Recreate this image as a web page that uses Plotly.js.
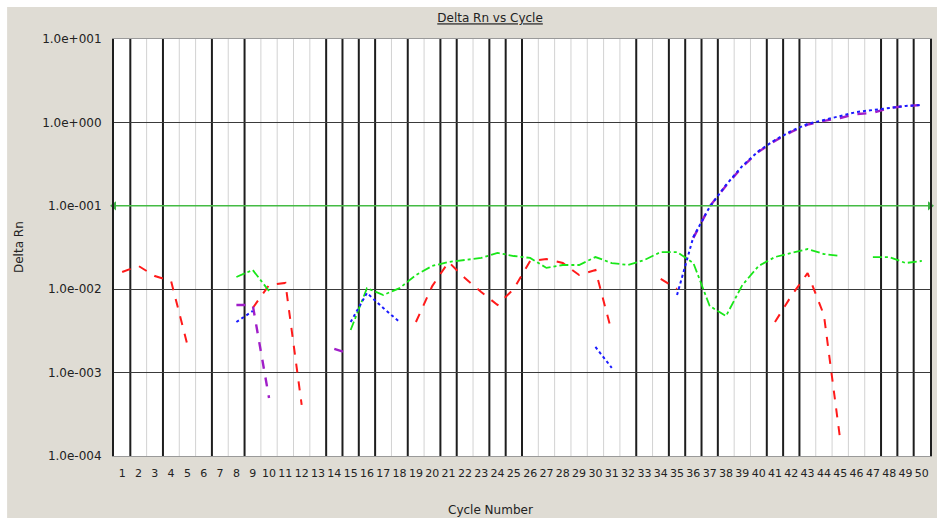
<!DOCTYPE html>
<html><head><meta charset="utf-8">
<script src="https://cdn.plot.ly/plotly-3.0.1.min.js"></script>
<style>html,body{margin:0;padding:0;background:#fff}#chart{width:937px;height:518px}</style>
</head><body><div id="chart"></div>
<script>
// ---- data ----
const cycles = [1,2,3,4,5,6,7,8,9,10,11,12,13,14,15,16,17,18,19,20,21,22,23,24,25,26,27,28,29,30,31,32,33,34,35,36,37,38,39,40,41,42,43,44,45,46,47,48,49,50];
const cycleLabels = ['1','2','3','4','5','6','7','8','9','10','11','12','13','14','15','16','17','18','19','20','21','22','23','24','25','26','27','28','29','30','31','32','33','34','35','36','37','38','39','40','41','42','43','44','45','46','47','48','49','50'];
const yTickValues = [0.0001, 0.001, 0.01, 0.1, 1, 10];
const yTickLabels = ['1.0e-004','1.0e-003','1.0e-002','1.0e-001','1.0e+000','1.0e+001'];
const thresholdValue = 0.1;

const redDeltaRn = [0.0161,0.0190,0.0144,0.0125,0.00214,null,null,null,0.00595,0.0112,
  0.0119,0.00041,null,null,null,null,null,null,0.00404,0.0109,
  0.0212,0.0136,0.00926,0.00647,0.0101,0.0218,0.0230,0.0206,0.0148,0.0170,
  0.00307,null,null,0.0133,0.0101,null,null,null,null,null,
  0.00404,0.00829,0.0156,0.00490,0.000156,null,null,null,null,null];
const greenDeltaRn = [null,null,null,null,null,null,null,0.0140,0.0170,0.00952,
  null,null,null,null,0.00324,0.0103,0.00852,0.0103,0.0148,0.0190,
  0.0212,0.0224,0.0237,0.0272,0.0250,0.0237,0.0180,0.0195,0.0195,0.0243,
  0.0206,0.0195,0.0224,0.0279,0.0279,0.0206,0.00629,0.00477,0.0112,0.0190,
  0.0243,0.0272,0.0303,0.0264,0.0250,null,0.0243,0.0243,0.0206,0.0218];
const blueDeltaRn = [null,null,null,null,null,null,null,0.00404,0.00548,null,
  null,null,null,null,0.00404,0.00900,0.00595,0.00404,null,null,
  null,null,null,null,null,null,null,null,null,0.00203,
  0.00114,null,null,null,0.00852,0.0423,0.097,0.178,0.300,0.454,
  0.615,0.789,0.957,1.069,1.193,1.332,1.408,1.488,1.573,1.617];
const purpleDeltaRn = [null,null,null,null,null,null,null,0.00647,0.00647,0.000496,
  null,null,null,0.00192,0.00167,null,null,null,null,null,
  null,null,null,null,null,null,null,null,null,null,
  null,null,null,null,null,0.0413,0.0985,0.174,0.294,0.445,
  0.600,0.770,0.940,1.045,1.13,1.26,1.30,1.488,1.57,1.617];

// ---- styling helpers (grid appearance of the scanned chart) ----
const darkGridAfter = [1,3,6,8,13,14,15,16,18,20,21,23,24,25,32,34,35,36,37,40,41,42,47,48,49];
const shapes = [];
for (let i = 0; i < cycles.length - 1; i++) {
  const c = cycles[i];
  const dark = darkGridAfter.indexOf(c) >= 0;
  shapes.push({type:'line', xref:'x', yref:'paper', x0:c+0.5, x1:c+0.5, y0:0, y1:1, layer:'below',
    line:{color: dark ? '#1e1e1e' : '#d2d2d2', width: dark ? 2 : 1}});
}
// white outer strips of the scan
shapes.push({type:'rect', xref:'paper', yref:'paper', x0:-0.2, x1:1.1, y0:1.077, y1:1.2, fillcolor:'#ffffff', line:{width:0}, layer:'below'});
shapes.push({type:'rect', xref:'paper', yref:'paper', x0:-0.2, x1:-0.131, y0:-0.2, y1:1.2, fillcolor:'#ffffff', line:{width:0}, layer:'below'});

const font = {family:'DejaVu Sans, Liberation Sans, sans-serif', size:12, color:'#222'};

const traces = [
  {x:cycles, y:redDeltaRn, mode:'lines', line:{color:'#ff1a1a', width:2, dash:'dash'}, name:'red'},
  {x:cycles, y:greenDeltaRn, mode:'lines', line:{color:'#19e619', width:1.8, dash:'dashdot'}, name:'green'},
  {x:cycles, y:purpleDeltaRn, mode:'lines', line:{color:'#a01ec8', width:2.4, dash:'dash'}, name:'purple'},
  {x:cycles, y:blueDeltaRn, mode:'lines', line:{color:'#1a1aff', width:2, dash:'dot'}, name:'blue'},
  {x:[0.5, 50.5], y:[thresholdValue, thresholdValue], mode:'lines+markers', cliponaxis:false,
   line:{color:'#44bb44', width:1.5}, marker:{symbol:['triangle-left','triangle-right'], size:8, color:'#3cb043'}, name:'threshold'}
];

const layout = {
  width:937, height:518,
  paper_bgcolor:'#dfdcd4', plot_bgcolor:'#ffffff',
  margin:{l:114, r:7, t:39, b:62},
  showlegend:false,
  font: font,
  title:{text:'<u>Delta Rn vs Cycle</u>', font:{family:font.family, size:12, color:'#222'},
    xref:'container', yref:'container', x:0.523, y:0.965, xanchor:'center', yanchor:'middle'},
  xaxis:{range:[0.5,50.5], tickmode:'array', tickvals:cycles, ticktext:cycleLabels, tickangle:0,
    showgrid:false, zeroline:false, ticks:'', ticklabelstandoff:7, showline:true, mirror:true, linecolor:'#9a9a9a', linewidth:1,
    tickfont:{family:font.family, size:11, color:'#222'}},
  yaxis:{type:'log', range:[-4,1], tickmode:'array', tickvals:yTickValues, ticktext:yTickLabels,
    showgrid:true, gridcolor:'#3a3a3a', gridwidth:1, zeroline:false, ticks:'', ticklabelstandoff:8,
    showline:true, mirror:true, linecolor:'#1e1e1e', linewidth:2,
    tickfont:{family:font.family, size:12, color:'#222'}},
  annotations:[
    {text:'Cycle Number', xref:'paper', yref:'paper', x:0.461, y:-0.13, xanchor:'center', yanchor:'middle',
     showarrow:false, font:{family:font.family, size:12, color:'#222'}},
    {text:'Delta Rn', xref:'paper', yref:'paper', x:-0.117, y:0.5, xanchor:'center', yanchor:'middle', textangle:-90,
     showarrow:false, font:{family:font.family, size:12, color:'#222'}}
  ],
  shapes: shapes
};

Plotly.newPlot('chart', traces, layout, {displayModeBar:false, staticPlot:true});
</script></body></html>
